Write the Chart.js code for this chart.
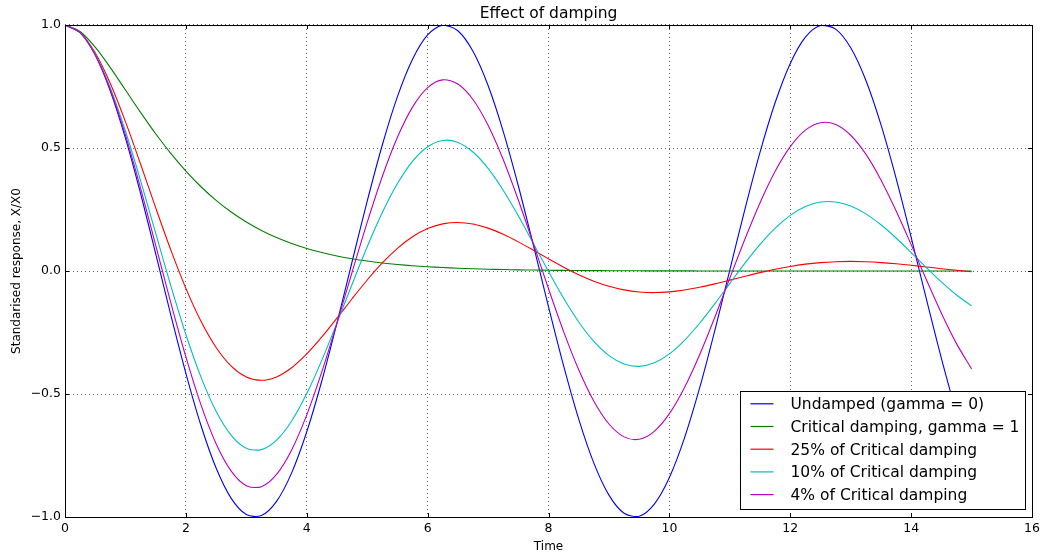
<!DOCTYPE html>
<html>
<head>
<meta charset="utf-8">
<title>Effect of damping</title>
<script src="https://cdn.jsdelivr.net/npm/chart.js@4.4.1/dist/chart.umd.min.js"></script>
<style>
  html, body { margin: 0; padding: 0; background: #fff; }
  #wrap { width: 1044px; height: 557px; }
</style>
</head>
<body>
<div id="wrap"><canvas id="chart" width="1044" height="557"></canvas></div>
<script>
// sample times (step 0.25)
const time = [0, 0.25, 0.5, 0.75, 1, 1.25, 1.5, 1.75, 2, 2.25, 2.5, 2.75, 3, 3.25, 3.5, 3.75,
  4, 4.25, 4.5, 4.75, 5, 5.25, 5.5, 5.75, 6, 6.25, 6.5, 6.75, 7, 7.25, 7.5, 7.75,
  8, 8.25, 8.5, 8.75, 9, 9.25, 9.5, 9.75, 10, 10.25, 10.5, 10.75, 11, 11.25, 11.5, 11.75,
  12, 12.25, 12.5, 12.75, 13, 13.25, 13.5, 13.75, 14, 14.25, 14.5, 14.75, 15];

const undamped = [1.0, 0.9689, 0.8776, 0.7317, 0.5403, 0.3153, 0.0707, -0.1782,
  -0.4161, -0.6282, -0.8011, -0.9243, -0.9900, -0.9941, -0.9365, -0.8206,
  -0.6536, -0.4461, -0.2108, 0.0376, 0.2837, 0.5121, 0.7087, 0.8612,
  0.9602, 0.9994, 0.9766, 0.8930, 0.7539, 0.5679, 0.3466, 0.1038,
  -0.1455, -0.3857, -0.6020, -0.7809, -0.9111, -0.9848, -0.9972, -0.9476,
  -0.8391, -0.6784, -0.4755, -0.2431, 0.0044, 0.2517, 0.4833, 0.6849,
  0.8439, 0.9504, 0.9978, 0.9832, 0.9074, 0.7753, 0.5949, 0.3776,
  0.1367, -0.1126, -0.3549, -0.5752, -0.7597];

const critical = [1.0, 0.9735, 0.9098, 0.8266, 0.7358, 0.6446, 0.5578, 0.4779,
  0.4060, 0.3425, 0.2873, 0.2397, 0.1991, 0.1648, 0.1359, 0.1117,
  0.0916, 0.0749, 0.0611, 0.0497, 0.0404, 0.0328, 0.0266, 0.0215,
  0.0174, 0.0140, 0.0113, 0.0091, 0.0073, 0.0059, 0.0047, 0.0038,
  0.0030, 0.0024, 0.0019, 0.0015, 0.0012, 0.0010, 0.0008, 0.0006,
  0.0005, 0.0004, 0.0003, 0.0003, 0.0002, 0.0002, 0.0001, 0.0001,
  0.0001, 0.0001, 0, 0, 0, 0, 0, 0,
  0, 0, 0, 0, 0];

const damped25 = [1.0, 0.9702, 0.8871, 0.7620, 0.6071, 0.4348, 0.2574, 0.0858,
  -0.0706, -0.2046, -0.3108, -0.3864, -0.4306, -0.4443, -0.4305, -0.3932,
  -0.3372, -0.2682, -0.1915, -0.1127, -0.0366, 0.0328, 0.0921, 0.1390,
  0.1723, 0.1916, 0.1974, 0.1910, 0.1743, 0.1492, 0.1184, 0.0844,
  0.0493, 0.0155, -0.0152, -0.0414, -0.0621, -0.0768, -0.0852, -0.0877,
  -0.0848, -0.0772, -0.0660, -0.0523, -0.0371, -0.0216, -0.0066, 0.0070,
  0.0186, 0.0278, 0.0342, 0.0379, 0.0390, 0.0376, 0.0342, 0.0292,
  0.0231, 0.0164, 0.0094, 0.0028, -0.0032];

const damped10 = [1.0, 0.9694, 0.8815, 0.7445, 0.5690, 0.3675, 0.1536, -0.0592,
  -0.2581, -0.4316, -0.5704, -0.6679, -0.7201, -0.7261, -0.6878, -0.6097,
  -0.4983, -0.3622, -0.2108, -0.0539, 0.0986, 0.2376, 0.3555, 0.4460,
  0.5051, 0.5307, 0.5228, 0.4836, 0.4170, 0.3284, 0.2242, 0.1114,
  -0.0022, -0.1109, -0.2072, -0.2862, -0.3440, -0.3781, -0.3877, -0.3732,
  -0.3369, -0.2818, -0.2124, -0.1335, -0.0503, 0.0319, 0.1081, 0.1741,
  0.2262, 0.2622, 0.2804, 0.2808, 0.2641, 0.2322, 0.1878, 0.1342,
  0.0750, 0.0142, -0.0445, -0.0977, -0.1418];

const damped4 = [1.0, 0.9691, 0.8792, 0.7369, 0.5521, 0.3370, 0.1053, -0.1282,
  -0.3492, -0.5443, -0.7021, -0.8135, -0.8726, -0.8769, -0.8271, -0.7274,
  -0.5848, -0.4091, -0.2117, -0.0051, 0.1976, 0.3842, 0.5435, 0.6661,
  0.7453, 0.7770, 0.7603, 0.6972, 0.5923, 0.4531, 0.2887, 0.1098,
  -0.0723, -0.2463, -0.4018, -0.5294, -0.6219, -0.6743, -0.6841, -0.6517,
  -0.5798, -0.4736, -0.3403, -0.1888, -0.0286, 0.1302, 0.2778, 0.4054,
  0.5055, 0.5725, 0.6029, 0.5956, 0.5518, 0.4749, 0.3703, 0.2450,
  0.1071, -0.0347, -0.1716, -0.2952, -0.3981];

const seriesLabels = [
  'Undamped (gamma = 0)',
  'Critical damping, gamma = 1',
  '25% of Critical damping',
  '10% of Critical damping',
  '4% of Critical damping'
];
const seriesValues = [undamped, critical, damped25, damped10, damped4];
const seriesColors = ['#0000ff', '#008000', '#ff0000', '#00bfbf', '#bf00bf'];

const xTicks = [0, 2, 4, 6, 8, 10, 12, 14, 16];
const yTicks = [-1, -0.5, 0, 0.5, 1];
const yTickLabels = ['\u22121.0', '\u22120.5', '0.0', '0.5', '1.0'];

const FONT = '"DejaVu Sans", sans-serif';
Chart.defaults.font.family = FONT;
Chart.defaults.color = '#000';

// solid frame round the plot area plus short inward tick marks on all four sides
const frameTicks = {
  id: 'frameTicks',
  afterDatasetsDraw(chart) {
    const { ctx, chartArea: a, scales } = chart;
    const len = 4;
    ctx.save();
    ctx.strokeStyle = '#000';
    ctx.lineWidth = 1;
    ctx.beginPath();
    xTicks.forEach(v => {
      const px = Math.round(scales.x.getPixelForValue(v)) + 0.5;
      ctx.moveTo(px, a.bottom); ctx.lineTo(px, a.bottom - len);
      ctx.moveTo(px, a.top); ctx.lineTo(px, a.top + len);
    });
    yTicks.forEach(v => {
      const py = Math.round(scales.y.getPixelForValue(v)) + 0.5;
      ctx.moveTo(a.left, py); ctx.lineTo(a.left + len, py);
      ctx.moveTo(a.right, py); ctx.lineTo(a.right - len, py);
    });
    ctx.stroke();
    ctx.strokeRect(Math.round(a.left) + 0.5, Math.round(a.top) + 0.5,
      Math.round(a.right - a.left), Math.round(a.bottom - a.top));
    ctx.restore();
  }
};

// boxed legend in the lower right corner of the plot
const cornerLegend = {
  id: 'cornerLegend',
  afterDraw(chart) {
    const { ctx, chartArea: a } = chart;
    const sets = chart.data.datasets;
    const rowH = 22.7;
    ctx.save();
    ctx.font = '15.5px ' + FONT;
    const textW = Math.max(...sets.map(d => ctx.measureText(d.label).width));
    const w = Math.round(50 + textW + 6);
    const h = Math.round(rowH * sets.length + 4.5);
    const x = Math.round(a.right - 7 - w) + 0.5;
    const y = Math.round(a.bottom - 8 - h) + 0.5;
    ctx.fillStyle = '#fff';
    ctx.fillRect(x, y, w, h);
    ctx.strokeStyle = '#000';
    ctx.lineWidth = 1;
    ctx.strokeRect(x, y, w, h);
    ctx.textBaseline = 'middle';
    ctx.textAlign = 'left';
    sets.forEach((d, i) => {
      const cy = y + 12.3 + i * rowH;
      ctx.strokeStyle = d.borderColor;
      ctx.lineWidth = 1.2;
      ctx.beginPath();
      ctx.moveTo(x + 10, cy);
      ctx.lineTo(x + 33, cy);
      ctx.stroke();
      ctx.fillStyle = '#000';
      ctx.fillText(d.label, x + 50, cy + 1.3);
    });
    ctx.restore();
  }
};

new Chart(document.getElementById('chart'), {
  type: 'line',
  data: {
    datasets: seriesValues.map((vals, i) => ({
      label: seriesLabels[i],
      data: time.map((t, k) => ({ x: t, y: vals[k] })),
      borderColor: seriesColors[i],
      backgroundColor: seriesColors[i],
      borderWidth: 1.1,
      pointRadius: 0,
      tension: 0.3,
      fill: false,
      order: seriesValues.length - i
    }))
  },
  options: {
    responsive: false,
    animation: false,
    devicePixelRatio: 1,
    layout: { padding: { left: 0, right: 8, top: 0, bottom: 0 } },
    plugins: {
      legend: { display: false },
      tooltip: { enabled: false },
      title: {
        display: true,
        text: 'Effect of damping',
        fullSize: false,
        color: '#000',
        font: { size: 15.5, weight: 'normal', lineHeight: 1.2 },
        padding: { top: 5.1, bottom: 1.3 }
      }
    },
    scales: {
      x: {
        type: 'linear',
        min: 0,
        max: 16,
        afterBuildTicks: s => { s.ticks = xTicks.map(v => ({ value: v })); },
        afterFit: s => { s.height = 40; },
        ticks: {
          padding: 4,
          maxRotation: 0,
          color: '#000',
          font: { size: 12.5 },
          callback: v => String(v)
        },
        grid: { color: 'rgba(0,0,0,0.6)', lineWidth: 1, drawTicks: false },
        border: { display: false, dash: [1, 3] },
        title: {
          display: true,
          text: 'Time',
          color: '#000',
          font: { size: 12, lineHeight: 1.2 },
          padding: { top: 0, bottom: 3 }
        }
      },
      y: {
        min: -1,
        max: 1,
        afterBuildTicks: s => { s.ticks = yTicks.map(v => ({ value: v })); },
        afterFit: s => { s.width = 65; },
        ticks: {
          padding: 4,
          color: '#000',
          font: { size: 12.5 },
          callback: v => yTickLabels[yTicks.indexOf(v)]
        },
        grid: { color: 'rgba(0,0,0,0.6)', lineWidth: 1, drawTicks: false },
        border: { display: false, dash: [1, 3] },
        title: {
          display: true,
          text: 'Standarised response, X/X0',
          color: '#000',
          font: { size: 12, lineHeight: 1.2 },
          padding: { top: 10, bottom: 0 }
        }
      }
    }
  },
  plugins: [frameTicks, cornerLegend]
});
</script>
</body>
</html>
